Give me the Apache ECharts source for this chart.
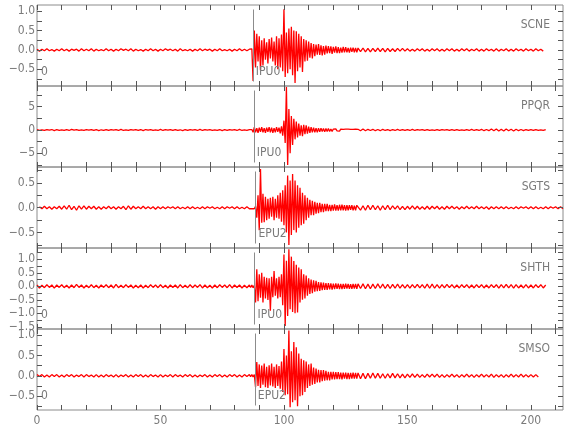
<!DOCTYPE html>
<html><head><meta charset="utf-8">
<script src="https://cdn.jsdelivr.net/npm/echarts@6/dist/echarts.min.js"></script>
<style>html,body{margin:0;padding:0;background:#fff}#c{width:580px;height:440px}</style>
</head><body><div id="c"></div>
<script>
// ---- Data ----
const stations = ['SCNE','PPQR','SGTS','SHTH','SMSO'];
const pickTimes = [87.4, 87.8, 88.5, 88.1, 88.2];
const pickLabels = ['IPU0','IPU0','EPU2','IPU0','EPU2'];
const quietStart = [0, 0, 1, 0, 0];   // first sample time of each trace (s)
const DT_QUIET = 1, T_EVENT = 86, DT_EVENT = 0.5, T_CODA = 130, DT_CODA = 1;
const xTickLabels = [0, 50, 100, 150, 200];
const xTicks = [0,10,20,30,40,50,60,70,80,90,100,110,120,130,140,150,160,170,180,190,200,210];
const yRanges = [[-0.93,1.16],[-7.93,9.43],[-0.81,0.82],[-1.58,1.42],[-0.84,1.15]];
const yMajor = [[-0.5,0,0.5,1],[-5,0,5],[-0.5,0,0.5],[-1.5,-1,-0.5,0,0.5,1],[-0.5,0,0.5,1]];
const yTicks = [[-0.75,-0.5,-0.25,0,0.25,0.5,0.75,1],[-7.5,-5,-2.5,0,2.5,5,7.5],[-0.75,-0.5,-0.25,0,0.25,0.5,0.75],
  [-1.5,-1.25,-1,-0.75,-0.5,-0.25,0,0.25,0.5,0.75,1,1.25],[-0.75,-0.5,-0.25,0,0.25,0.5,0.75,1]];
const yDecimals = [1,0,1,1,1];
const startMarks = ['0','0','','0','0'];

const scneQuiet = [0.02,-0.03,0.02,-0.02,0.03,-0.02,0.01,-0.03,0.02,-0.02,
0.03,-0.02,0.02,-0.03,0.02,-0.01,0.02,-0.03,0.03,-0.02,
0.02,-0.02,0.03,-0.03,0.02,-0.02,0.01,-0.02,0.03,-0.02,
0.02,-0.03,0.02,-0.02,0.03,-0.01,0.02,-0.02,0.03,-0.03,
0.02,-0.02,0.01,-0.03,0.02,-0.02,0.03,-0.02,0.02,-0.03,
0.02,-0.02,0.03,-0.01,0.02,-0.02,0.02,-0.03,0.03,-0.02,
0.01,-0.02,0.02,-0.03,0.02,-0.02,0.03,-0.02,0.02,-0.01,
0.02,-0.03,0.02,-0.02,0.03,-0.02,0.01,-0.02,0.02,-0.03,
0.02,-0.02,0.03,-0.02,0.02,-0.02];
const scneEvent = [0.02,-0.03,0.03,-0.80,0.50,-0.45,0.42,-0.30,0.35,-0.52,
0.25,-0.40,0.30,-0.25,0.20,-0.35,0.28,-0.22,0.32,-0.30,
0.22,-0.40,0.35,-0.50,0.30,-0.45,0.40,-0.55,1.05,-0.70,
0.45,-0.60,0.55,-0.50,0.60,-0.65,0.50,-0.85,0.48,-0.55,
0.42,-0.45,0.35,-0.57,0.28,-0.30,0.25,-0.28,0.22,-0.20,
0.18,-0.22,0.15,-0.16,0.14,-0.12,0.15,-0.13,0.12,-0.14,
0.10,-0.12,0.11,-0.09,0.10,-0.08,0.09,-0.10,0.08,-0.07,
0.09,-0.08,0.07,-0.08,0.06,-0.07,0.08,-0.06,0.07,-0.06,
0.05,-0.07,0.06,-0.05,0.06,-0.06,0.05,-0.06];
const scneCoda = [0.05,-0.04,0.05,-0.05,0.04,-0.05,0.04,-0.04,0.05,-0.04,
0.04,-0.05,0.04,-0.04,0.03,-0.04,0.04,-0.03,0.04,-0.03,
0.03,-0.03,0.02,-0.03,0.03,-0.02,0.03,-0.03,0.02,-0.03,
0.03,-0.02,0.03,-0.03,0.02,-0.03,0.03,-0.02,0.03,-0.03,
0.02,-0.03,0.03,-0.02,0.03,-0.03,0.02,-0.02,0.03,-0.03,
0.02,-0.03,0.03,-0.02,0.02,-0.03,0.03,-0.03,0.02,-0.02,
0.03,-0.03,0.02,-0.03,0.03,-0.02,0.02,-0.03,0.03,-0.02,
0.02,-0.03,0.03,-0.02,0.02,-0.03];

const ppqrQuiet = [0.1,-0.1,0.05,-0.1,0.1,-0.05,0.1,-0.15,0.1,-0.1,
0.05,-0.1,0.1,-0.1,0.15,-0.05,0.1,-0.1,0.05,-0.1,
0.1,-0.05,0.1,-0.1,0.1,-0.15,0.05,-0.1,0.1,-0.1,
0.1,-0.05,0.1,-0.1,0.15,-0.1,0.05,-0.1,0.1,-0.05,
0.1,-0.1,0.1,-0.15,0.1,-0.05,0.1,-0.1,0.05,-0.1,
0.15,-0.1,0.1,-0.05,0.1,-0.1,0.1,-0.1,0.05,-0.15,
0.1,-0.1,0.1,-0.05,0.1,-0.1,0.15,-0.1,0.1,-0.05,
0.1,-0.1,0.05,-0.1,0.1,-0.15,0.1,-0.1,0.1,-0.05,
0.1,-0.1,0.15,-0.1,0.05,-0.1];
const ppqrEvent = [0.1,-0.1,0.1,-0.5,0.6,-0.5,0.4,-0.6,0.5,-0.4,
0.6,-0.5,0.4,-0.6,0.5,-0.4,0.6,-0.5,0.5,-0.6,
0.4,-0.5,0.6,-0.4,0.5,-0.7,0.8,-1.2,2.0,-2.8,
9.2,-7.5,4.5,-5.0,3.0,-3.2,2.4,-2.0,1.8,-1.6,
1.4,-1.2,1.0,-1.3,1.1,-0.9,1.0,-0.8,0.7,-0.6,
0.6,-0.5,0.5,-0.5,0.4,-0.5,0.4,-0.4,0.4,-0.3,
0.3,-0.4,0.3,-0.3,0.3,-0.3,0.2,-0.3,0.2,-0.2,
0.25,-0.2,0.2,-0.25,0.2,-0.2,0.15,-0.2,0.2,-0.15,
0.2,-0.2,0.15,-0.2,0.15,-0.15,0.2,-0.15];
const ppqrCoda = [0.15,-0.15,0.2,-0.15,0.15,-0.1,0.15,-0.15,0.1,-0.15,
0.15,-0.1,0.1,-0.15,0.1,-0.1,0.15,-0.1,0.1,-0.1,
0.1,-0.1,0.15,-0.1,0.1,-0.05,0.1,-0.1,0.1,-0.1,
0.05,-0.1,0.1,-0.1,0.1,-0.05,0.1,-0.1,0.1,-0.1,
0.1,-0.1,0.05,-0.1,0.1,-0.1,0.15,-0.1,0.1,-0.1,
0.15,-0.15,0.1,-0.15,0.2,-0.15,0.2,-0.2,0.15,-0.2,
0.2,-0.15,0.15,-0.2,0.15,-0.15,0.1,-0.15,0.1,-0.1,
0.1,-0.1,0.1,-0.1,0.05,-0.1,0.1];

const sgtsQuiet = [0.02,-0.02,0.03,-0.02,0.02,-0.03,0.02,-0.02,0.03,-0.03,
0.04,-0.03,0.05,-0.04,0.03,-0.05,0.04,-0.03,0.04,-0.03,
0.03,-0.02,0.03,-0.03,0.02,-0.03,0.02,-0.02,0.03,-0.02,
0.02,-0.03,0.02,-0.02,0.03,-0.04,0.04,-0.03,0.03,-0.02,
0.02,-0.02,0.03,-0.02,0.02,-0.02,0.02,-0.03,0.02,-0.02,
0.02,-0.02,0.02,-0.01,0.02,-0.02,0.02,-0.02,0.01,-0.02,
0.02,-0.02,0.02,-0.02,0.01,-0.02,0.02,-0.02,0.02,-0.01,
0.02,-0.02,0.01,-0.02,0.02,-0.02,0.02,-0.01,0.02,-0.02,
0.02,-0.02,0.01,-0.02,0.02];
const sgtsEvent = [-0.02,0.02,-0.02,0.02,-0.02,0.03,-0.20,0.25,-0.45,0.78,
-0.30,0.28,-0.29,0.22,-0.25,0.18,-0.22,0.20,-0.18,0.22,
-0.25,0.18,-0.20,0.25,-0.22,0.30,-0.28,0.35,-0.35,0.45,
-0.50,0.65,-0.75,0.55,-0.55,0.68,-0.45,0.55,-0.50,0.45,
-0.40,0.40,-0.35,0.30,-0.32,0.25,-0.25,0.20,-0.20,0.16,
-0.15,0.14,-0.15,0.12,-0.12,0.10,-0.11,0.10,-0.09,0.08,
-0.09,0.08,-0.07,0.08,-0.07,0.06,-0.07,0.06,-0.06,0.07,
-0.06,0.05,-0.06,0.06,-0.05,0.06,-0.05,0.05,-0.06,0.05,
-0.05,0.05,-0.04,0.05,-0.05,0.04,-0.05,0.05];
const sgtsCoda = [0.05,-0.05,0.04,-0.05,0.05,-0.04,0.05,-0.04,0.04,-0.05,
0.04,-0.04,0.05,-0.04,0.04,-0.03,0.04,-0.04,0.03,-0.04,
0.03,-0.03,0.04,-0.03,0.03,-0.03,0.02,-0.03,0.03,-0.03,
0.03,-0.02,0.03,-0.03,0.02,-0.03,0.03,-0.02,0.03,-0.02,
0.02,-0.03,0.02,-0.02,0.03,-0.02,0.02,-0.02,0.03,-0.02,
0.02,-0.02,0.02,-0.03,0.02,-0.02,0.02,-0.02,0.02,-0.02,
0.02,-0.02,0.01,-0.02,0.02,-0.02,0.02,-0.01,0.02,-0.02,
0.02,-0.02,0.02,-0.02,0.01,-0.02,0.02,-0.02,0.02,-0.01,
0.02,-0.02,0.02,-0.02];

const shthQuiet = [0.05,-0.06,0.04,-0.05,0.06,-0.04,0.05,-0.07,0.05,-0.04,
0.06,-0.05,0.04,-0.06,0.05,-0.05,0.07,-0.04,0.05,-0.06,
0.04,-0.05,0.06,-0.05,0.04,-0.06,0.05,-0.04,0.06,-0.05,
0.05,-0.06,0.07,-0.05,0.04,-0.05,0.06,-0.04,0.05,-0.06,
0.04,-0.05,0.05,-0.06,0.04,-0.05,0.06,-0.04,0.05,-0.05,
0.06,-0.05,0.04,-0.06,0.05,-0.04,0.05,-0.06,0.06,-0.05,
0.04,-0.05,0.06,-0.05,0.05,-0.04,0.06,-0.06,0.05,-0.05,
0.04,-0.06,0.05,-0.05,0.06,-0.04,0.05,-0.05,0.06,-0.06,
0.05,-0.04,0.05,-0.06,0.04,-0.05];
const shthEvent = [0.05,-0.04,0.05,-0.05,0.04,-0.60,0.63,-0.55,0.45,-0.42,
0.50,-0.60,0.35,-0.45,0.32,-0.50,0.30,-0.90,0.35,-0.40,
0.57,-0.35,0.30,-0.45,0.35,-0.40,0.45,-0.70,1.18,-1.47,
0.95,-1.10,1.37,-0.85,1.10,-0.95,0.94,-1.00,0.80,-0.97,
0.70,-0.60,0.63,-0.50,0.45,-0.45,0.40,-0.35,0.30,-0.28,
0.25,-0.25,0.22,-0.20,0.20,-0.18,0.16,-0.17,0.15,-0.14,
0.14,-0.13,0.12,-0.13,0.12,-0.11,0.11,-0.12,0.10,-0.10,
0.11,-0.09,0.10,-0.10,0.09,-0.10,0.09,-0.09,0.10,-0.08,
0.09,-0.09,0.08,-0.09,0.09,-0.08,0.09,-0.09];
const shthCoda = [0.09,-0.08,0.09,-0.09,0.08,-0.09,0.08,-0.08,0.09,-0.07,
0.08,-0.08,0.07,-0.08,0.07,-0.07,0.08,-0.07,0.06,-0.07,
0.06,-0.07,0.06,-0.06,0.07,-0.06,0.06,-0.07,0.08,-0.07,
0.08,-0.07,0.06,-0.07,0.06,-0.06,0.07,-0.05,0.06,-0.06,
0.05,-0.06,0.06,-0.05,0.06,-0.06,0.05,-0.06,0.06,-0.05,
0.06,-0.06,0.05,-0.06,0.06,-0.05,0.06,-0.07,0.06,-0.06,
0.07,-0.06,0.06,-0.07,0.06,-0.06,0.05,-0.06,0.06,-0.06,
0.05,-0.06,0.06,-0.05,0.06,-0.06,0.05];

const smsoQuiet = [0.03,-0.02,0.03,-0.03,0.02,-0.03,0.03,-0.02,0.03,-0.03,
0.02,-0.03,0.03,-0.02,0.03,-0.03,0.02,-0.02,0.03,-0.03,
0.03,-0.02,0.02,-0.03,0.03,-0.03,0.02,-0.03,0.03,-0.02,
0.02,-0.03,0.03,-0.03,0.02,-0.02,0.03,-0.03,0.02,-0.03,
0.03,-0.02,0.03,-0.03,0.02,-0.03,0.03,-0.02,0.02,-0.03,
0.03,-0.03,0.02,-0.02,0.03,-0.03,0.03,-0.02,0.02,-0.03,
0.03,-0.02,0.03,-0.03,0.02,-0.03,0.02,-0.02,0.03,-0.03,
0.02,-0.03,0.03,-0.02,0.03,-0.03,0.02,-0.03,0.03,-0.02,
0.03,-0.03,0.02,-0.03,0.03,-0.02];
const smsoEvent = [0.03,-0.02,0.03,-0.03,0.03,-0.28,0.34,-0.25,0.28,-0.30,
0.25,-0.22,0.30,-0.28,0.22,-0.30,0.26,-0.24,0.30,-0.26,
0.22,-0.30,0.28,-0.25,0.24,-0.32,0.35,-0.40,0.66,-0.48,
0.50,-0.45,1.11,-0.77,0.60,-0.65,0.83,-0.60,0.70,-0.75,
0.55,-0.50,0.42,-0.48,0.38,-0.40,0.35,-0.30,0.28,-0.25,
0.30,-0.22,0.20,-0.20,0.18,-0.16,0.15,-0.16,0.14,-0.13,
0.14,-0.12,0.12,-0.11,0.10,-0.11,0.10,-0.09,0.10,-0.09,
0.09,-0.08,0.09,-0.08,0.08,-0.09,0.08,-0.07,0.08,-0.08,
0.07,-0.08,0.07,-0.07,0.08,-0.07,0.07,-0.07];
const smsoCoda = [0.07,-0.07,0.06,-0.07,0.06,-0.06,0.07,-0.06,0.06,-0.06,
0.05,-0.06,0.05,-0.05,0.06,-0.05,0.05,-0.05,0.04,-0.05,
0.04,-0.04,0.05,-0.04,0.04,-0.04,0.03,-0.04,0.04,-0.03,
0.04,-0.03,0.04,-0.04,0.03,-0.04,0.03,-0.03,0.04,-0.03,
0.03,-0.04,0.03,-0.03,0.04,-0.03,0.03,-0.04,0.03,-0.03,
0.04,-0.03,0.03,-0.03,0.04,-0.04,0.03,-0.03,0.03,-0.04,
0.03,-0.03,0.04,-0.03,0.03,-0.03,0.04,-0.03,0.03,-0.03,
0.03,-0.03,0.03,-0.03];

const traces = [
  [scneQuiet, scneEvent, scneCoda],
  [ppqrQuiet, ppqrEvent, ppqrCoda],
  [sgtsQuiet, sgtsEvent, sgtsCoda],
  [shthQuiet, shthEvent, shthCoda],
  [smsoQuiet, smsoEvent, smsoCoda]
];

// ---- Layout / style ----
const GRID_TOP = [5, 86, 167, 248, 329], GRID_H = 81, GRID_LEFT = 37, GRID_RIGHT = 17;
const X_MAX = 213;
const LINE = '#8c8c8c', TICK = '#555555', TXT = '#7a7a7a';
const FONT = "'Liberation Sans Narrow','DejaVu Sans Condensed','Liberation Sans',sans-serif";
const TRACE = '#ff0000';

function buildTrace(p) {
  const [q, e, c] = traces[p];
  const pts = [];
  q.forEach((v, i) => pts.push([quietStart[p] + i * DT_QUIET, v]));
  e.forEach((v, i) => pts.push([T_EVENT + i * DT_EVENT, v]));
  c.forEach((v, i) => pts.push([T_CODA + i * DT_CODA, v]));
  return pts;
}
function fmtY(dec) {
  return v => (v < -1e-9 ? '\u2212' : '') + Math.abs(v).toFixed(dec);
}

const grids = [], xAxes = [], yAxes = [], series = [], graphics = [];
for (let p = 0; p < 5; p++) {
  grids.push({ left: GRID_LEFT, right: GRID_RIGHT, top: GRID_TOP[p], height: GRID_H,
    show: true, borderColor: LINE, borderWidth: 1, backgroundColor: 'transparent' });
  const last = p === 4;
  xAxes.push({ type: 'value', gridIndex: p, position: 'bottom', min: 0, max: X_MAX, z: 10,
    axisLine: { show: false, onZero: false }, splitLine: { show: false },
    axisTick: { show: true, inside: true, length: 5, customValues: xTicks, lineStyle: { color: TICK, width: 1 } },
    axisLabel: { show: last, customValues: xTickLabels, color: TXT, fontFamily: FONT, fontSize: 12, margin: 5 } });
  xAxes.push({ type: 'value', gridIndex: p, position: 'top', min: 0, max: X_MAX, z: 10,
    axisLine: { show: false, onZero: false }, splitLine: { show: false },
    axisTick: { show: true, inside: true, length: 5, customValues: xTicks, lineStyle: { color: TICK, width: 1 } },
    axisLabel: { show: false } });
  const [ymin, ymax] = yRanges[p];
  yAxes.push({ type: 'value', gridIndex: p, position: 'left', min: ymin, max: ymax, z: 10,
    axisLine: { show: false, onZero: false }, splitLine: { show: false },
    axisTick: { show: true, inside: true, length: 5, customValues: yTicks[p], lineStyle: { color: TICK, width: 1 } },
    axisLabel: { show: true, customValues: yMajor[p], formatter: fmtY(yDecimals[p]), color: TXT, fontFamily: FONT, fontSize: 12, margin: 2 } });
  yAxes.push({ type: 'value', gridIndex: p, position: 'right', min: ymin, max: ymax, z: 10,
    axisLine: { show: false, onZero: false }, splitLine: { show: false },
    axisTick: { show: true, inside: true, length: 5, customValues: yTicks[p], lineStyle: { color: TICK, width: 1 } },
    axisLabel: { show: false } });

  const span = ymax - ymin;
  const y1 = ymin + span * 4.5 / GRID_H, y2 = ymax - span * 4.5 / GRID_H;
  const yLab = ymin + span * 14 / GRID_H;
  series.push({
    type: 'line', xAxisIndex: p * 2, yAxisIndex: p * 2, data: buildTrace(p),
    showSymbol: false, symbol: 'none', animation: false, silent: true,
    lineStyle: { color: TRACE, width: 1.3 },
    markLine: { silent: true, symbol: ['none', 'none'], animation: false, label: { show: false },
      lineStyle: { color: LINE, width: 1, type: 'solid' },
      data: [[{ coord: [pickTimes[p], y1] }, { coord: [pickTimes[p], y2] }]] },
    markPoint: { silent: true, animation: false, symbol: 'circle', symbolSize: 0,
      label: { show: true, position: 'right', distance: 3, color: TXT, fontFamily: FONT, fontSize: 12, formatter: pickLabels[p] },
      data: [{ coord: [pickTimes[p], yLab] }] }
  });
  graphics.push({ type: 'text', x: 550, y: GRID_TOP[p] + 20,
    style: { text: stations[p], fill: TXT, font: '12px ' + FONT, align: 'right', verticalAlign: 'middle' } });
  if (startMarks[p]) {
    graphics.push({ type: 'text', x: 41, y: GRID_TOP[p] + GRID_H - 14,
      style: { text: startMarks[p], fill: TXT, font: '12px ' + FONT, align: 'left', verticalAlign: 'middle' } });
  }
}

const chart = echarts.init(document.getElementById('c'));
chart.setOption({
  animation: false,
  grid: grids, xAxis: xAxes, yAxis: yAxes, series: series, graphic: graphics
});
</script></body></html>
